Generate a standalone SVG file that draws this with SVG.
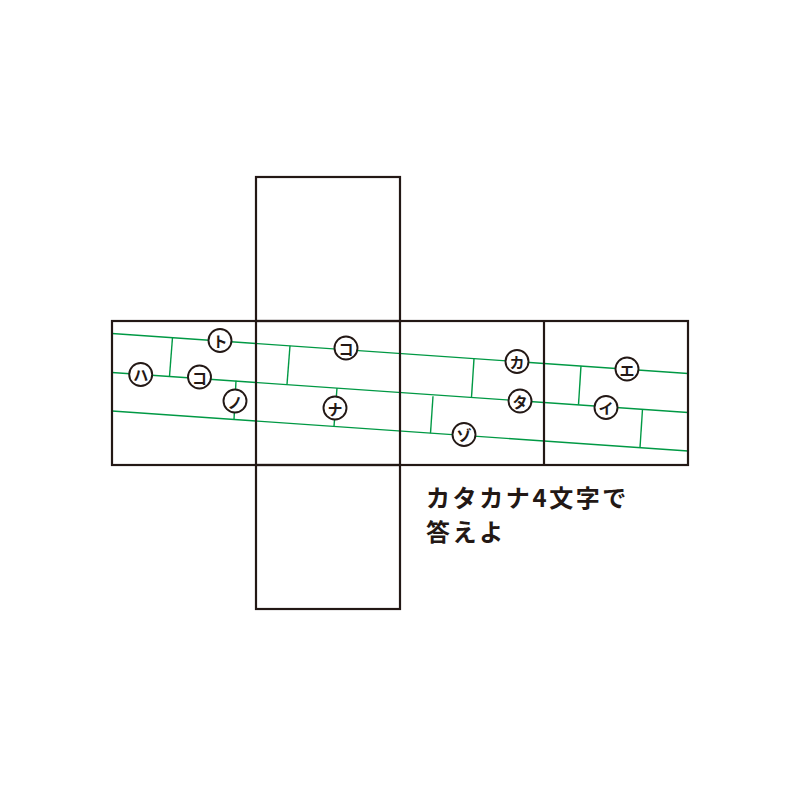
<svg xmlns="http://www.w3.org/2000/svg" width="800" height="800" viewBox="0 0 800 800">
<style>
.g{stroke:#009944;stroke-width:1.4;fill:none}
.k{stroke:#231815;stroke-width:2.2;fill:none}
.c circle{fill:#fff;stroke:#231815;stroke-width:1.9}
.c text{font-family:"Noto Sans CJK JP",sans-serif;font-size:15px;font-weight:700;fill:#231815;text-anchor:middle;dominant-baseline:central}
.t{font-family:"Noto Sans CJK JP",sans-serif;font-size:24px;font-weight:700;fill:#231815;letter-spacing:2.6px}
</style>
<rect width="800" height="800" fill="#fff"/>
<g id="connectors">
<line class="g" x1="112" y1="333.5" x2="688" y2="373.5"/>
<line class="g" x1="112" y1="372.5" x2="688" y2="412.5"/>
<line class="g" x1="112" y1="411" x2="688" y2="451"/>
<line class="g" x1="172.5" y1="337.5" x2="169.5" y2="376.2"/>
<line class="g" x1="236" y1="380.8" x2="234" y2="419.4"/>
<line class="g" x1="290" y1="345.8" x2="287" y2="384.4"/>
<line class="g" x1="337" y1="388" x2="334" y2="426.4"/>
<line class="g" x1="474" y1="358.6" x2="471.5" y2="397.2"/>
<line class="g" x1="433" y1="396.3" x2="430.5" y2="433.2"/>
<line class="g" x1="581" y1="365.9" x2="578.5" y2="404.6"/>
<line class="g" x1="642.5" y1="409.2" x2="640" y2="447.6"/>
</g>
<g id="net">
<rect class="k" x="256" y="177" width="144" height="144"/>
<rect class="k" x="256" y="465" width="144" height="144"/>
<rect class="k" x="112" y="321" width="576" height="144"/>
<line class="k" x1="256" y1="321" x2="256" y2="465"/>
<line class="k" x1="400" y1="321" x2="400" y2="465"/>
<line class="k" x1="544" y1="321" x2="544" y2="465"/>
</g>
<g id="n-to" class="c"><circle cx="220" cy="340.5" r="11.5"/><text x="220" y="340.5">ト</text></g>
<g id="n-ha" class="c"><circle cx="140.7" cy="374.5" r="11.5"/><text x="140.7" y="374.5">ハ</text></g>
<g id="n-ko1" class="c"><circle cx="199.5" cy="377" r="11.5"/><text x="199.5" y="377">コ</text></g>
<g id="n-no" class="c"><circle cx="235" cy="401" r="11.5"/><text x="235" y="401">ノ</text></g>
<g id="n-ko2" class="c"><circle cx="346" cy="348" r="11.5"/><text x="346" y="348">コ</text></g>
<g id="n-na" class="c"><circle cx="335" cy="408" r="11.5"/><text x="335" y="408">ナ</text></g>
<g id="n-ka" class="c"><circle cx="517" cy="361.5" r="11.5"/><text x="517" y="361.5">カ</text></g>
<g id="n-ta" class="c"><circle cx="520" cy="401" r="11.5"/><text x="520" y="401">タ</text></g>
<g id="n-zo" class="c"><circle cx="464" cy="434.5" r="11.5"/><text x="464" y="434.5">ゾ</text></g>
<g id="n-e" class="c"><circle cx="627" cy="369" r="11.5"/><text x="627" y="369">エ</text></g>
<g id="n-i" class="c"><circle cx="606" cy="407.5" r="11.5"/><text x="606" y="407.5">イ</text></g>
<g id="caption">
<text class="t" x="426" y="507">カタカナ4文字で</text>
<text class="t" x="426" y="541">答えよ</text>
</g>
</svg>
